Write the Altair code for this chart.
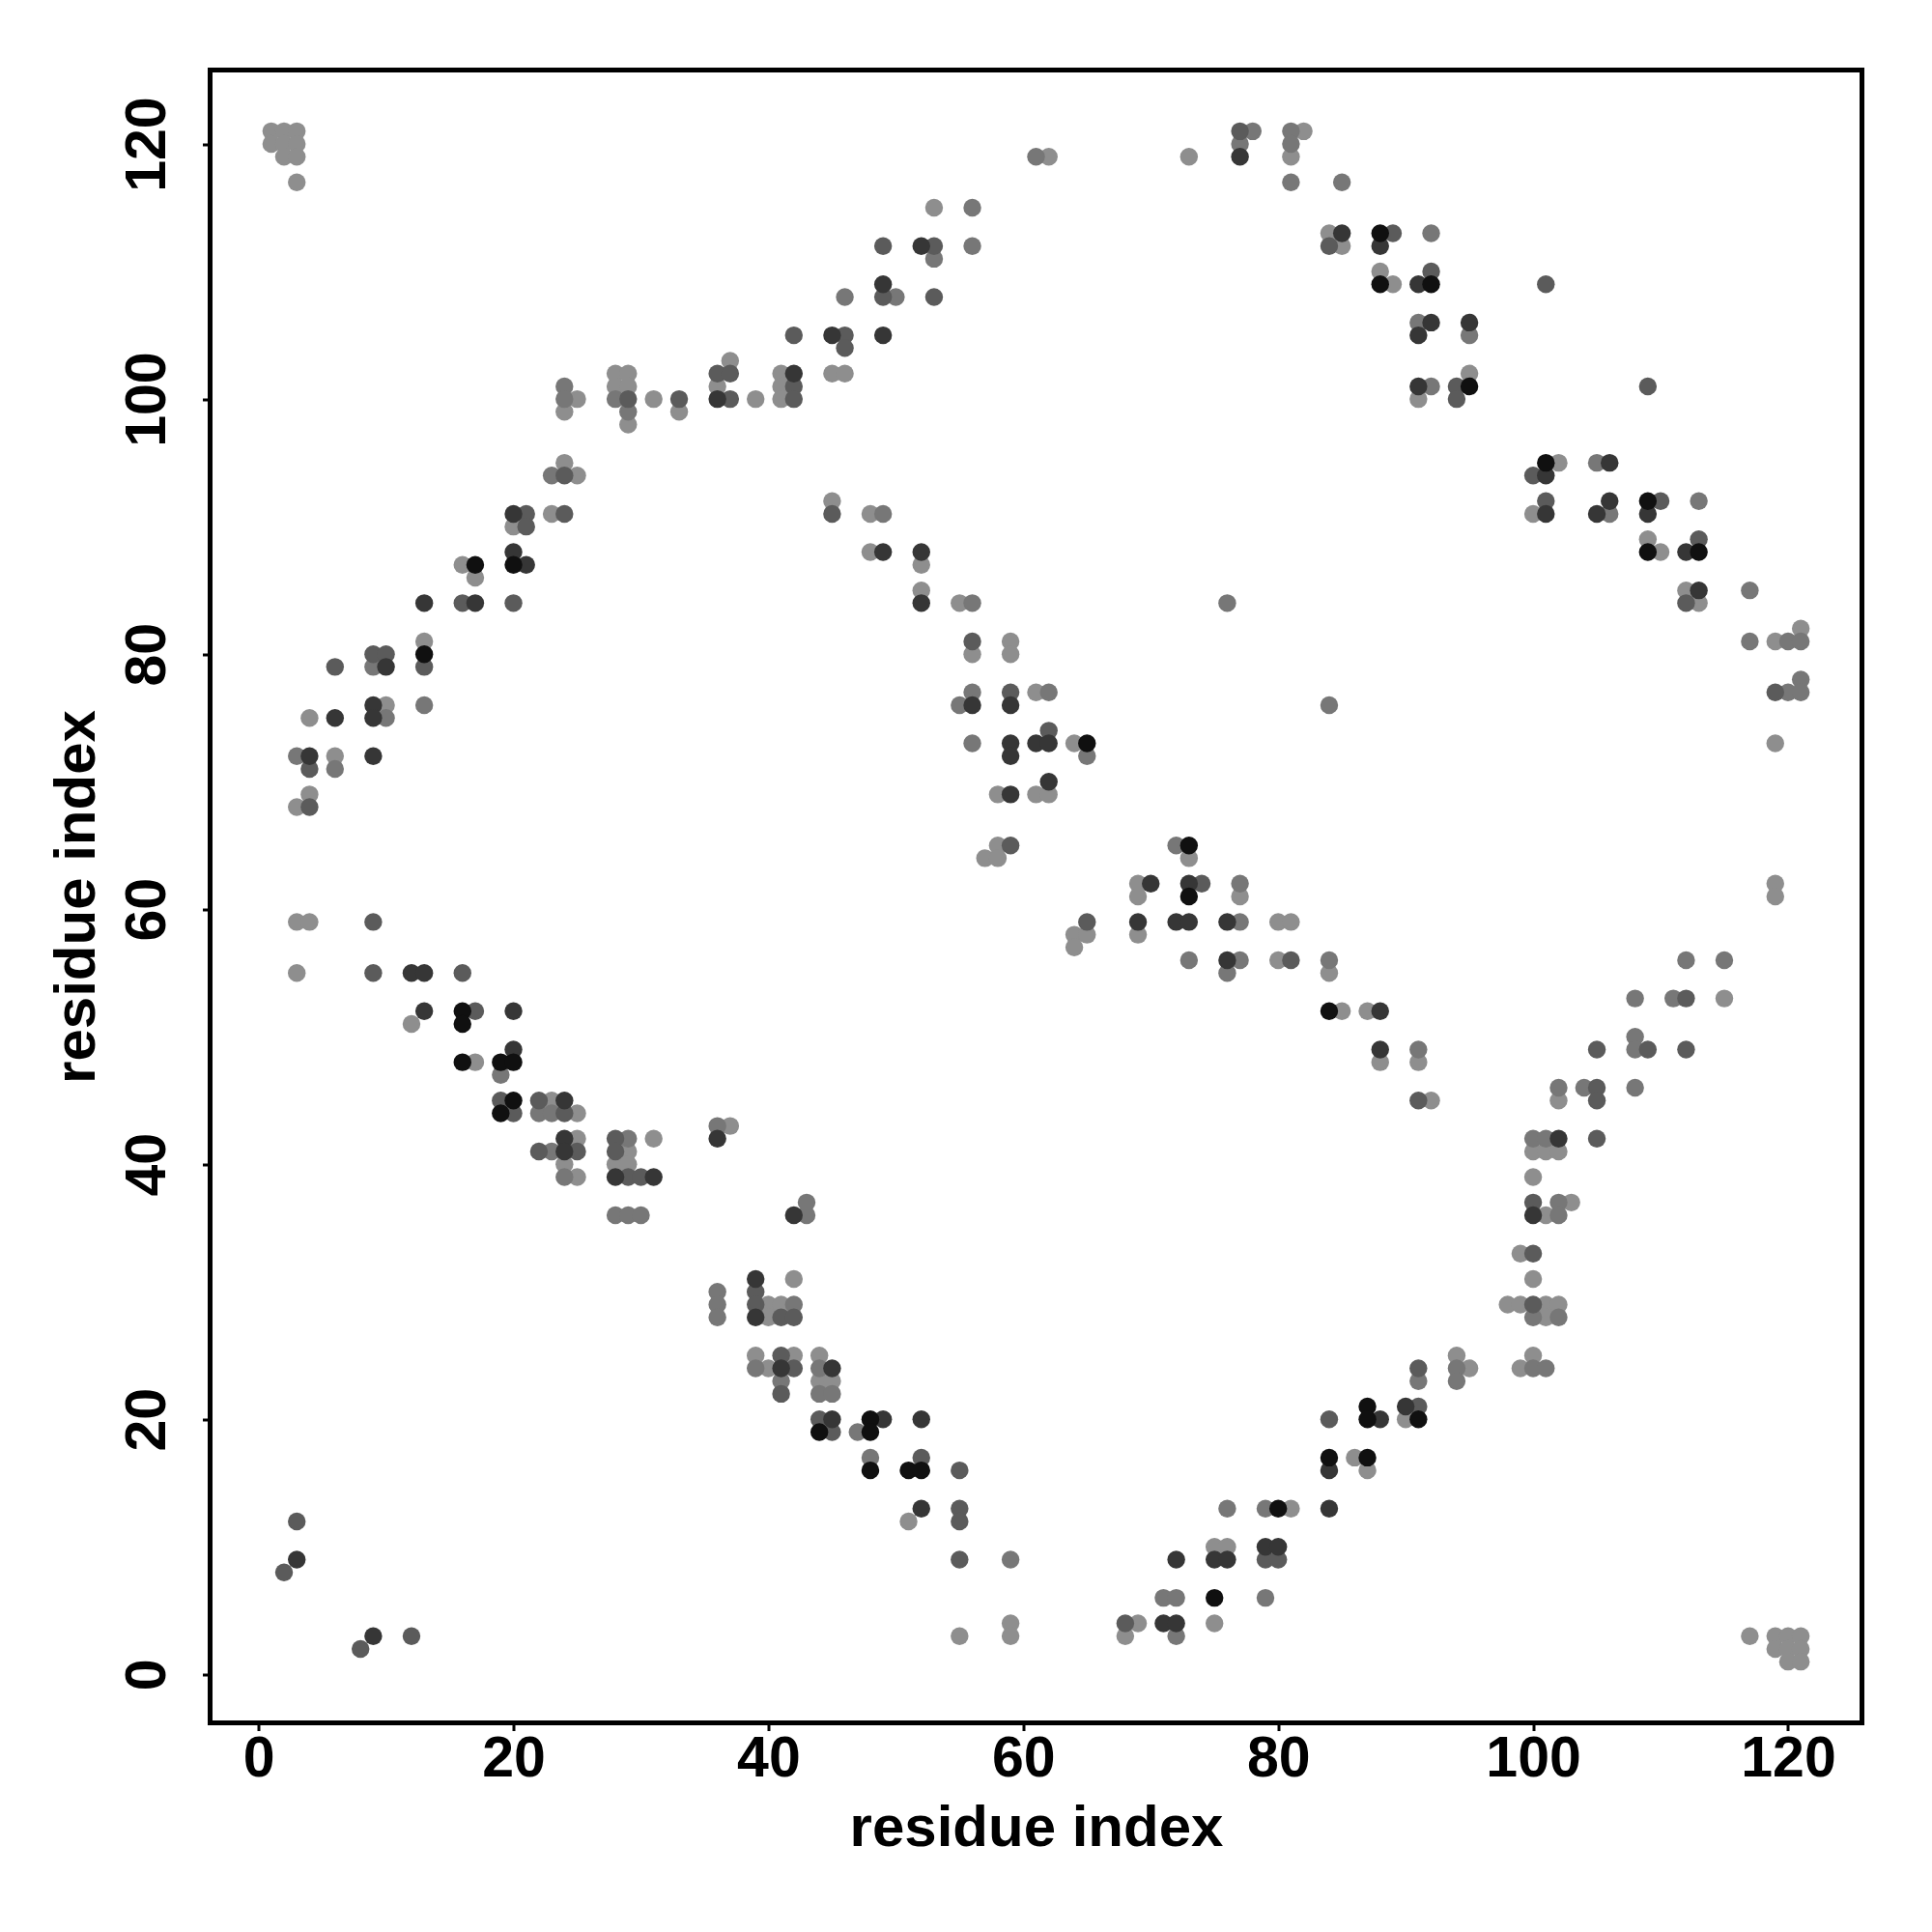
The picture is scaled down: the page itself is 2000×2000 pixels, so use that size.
import altair as alt
import pandas as pd

# contact pairs (residue i, residue j) grouped by shade
light_pts = [
    [1,121],[2,121],[3,121],[1,120],[2,120],[3,120],[2,119],[3,119],[3,117],
    [25,100],[24,99],[28,102],[28,101],[29,102],[29,101],[29,98],[31,100],[33,99],[36,101],[37,103],[39,100],[24,95],[25,94],
    [62,119],[73,119],[81,119],[82,121],[53,115],
    [41,102],[45,102],[46,102],[41,101],[41,100],
    [84,113],[85,112],[88,110],[89,109],[95,102],[91,100],[102,95],
    [23,91],[20,90],[16,87],[17,86],[13,81],[10,76],[4,75],[6,72],[4,69],[3,68],
    [45,92],[48,91],[48,88],[52,87],[52,85],[55,84],[56,80],[59,81],[59,80],[61,77],[64,73],[58,69],[61,69],[62,69],[58,65],[57,64],[58,64],[73,64],[69,62],
    [100,91],[109,89],[110,88],[112,85],[113,84],[121,82],[119,81],[119,73],[119,62],
    [3,59],[4,59],[3,55],[12,51],[17,48],[23,45],[25,44],[25,42],[31,42],[37,43],[29,41],[24,40],[28,40],[29,40],[25,39],[39,25],
    [69,61],[77,61],[80,59],[81,59],[64,58],[65,58],[69,58],[64,57],[80,56],[42,31],[40,29],[41,29],[40,28],[42,25],[44,25],[40,24],[44,23],[45,23],[51,12],[59,4],[55,3],[59,3],[81,13],[75,10],[76,10],[69,4],[75,4],[68,3],
    [119,61],[84,55],[115,53],[85,52],[87,52],[88,48],[91,48],[92,45],[102,45],[100,41],[101,41],[102,41],[100,39],[103,37],[101,36],[99,33],[100,31],[98,29],[99,29],[101,29],[102,29],[101,28],[100,25],[99,24],[94,25],[95,24],[90,20],[86,17],[87,16],
    [117,3],[119,3],[120,3],[121,3],[119,2],[120,2],[121,2],[120,1],[121,1],
]
gray_pts = [
    [24,101],[24,100],[28,100],[29,99],[23,94],
    [61,119],[77,120],[78,121],[81,121],[81,120],[81,117],[56,115],[56,112],[53,111],[46,108],[50,108],
    [85,117],[92,113],[91,106],[95,105],[92,101],[105,95],
    [9,79],[13,76],[10,75],[3,72],[6,71],
    [49,91],[56,84],[76,84],[56,77],[62,77],[55,76],[56,73],[65,72],[72,65],[77,62],
    [113,92],[106,91],[117,85],[117,81],[120,81],[121,81],[121,78],[120,77],[121,77],[84,76],
    [19,47],[22,44],[23,44],[29,42],[36,43],[23,41],[24,39],[28,36],[29,36],[30,36],[36,30],[36,29],[36,28],[39,24],
    [77,59],[73,56],[77,56],[76,55],[43,37],[43,36],[42,29],[44,24],[41,23],[44,22],[45,22],[47,19],[48,17],[59,9],[76,13],[79,13],[71,6],[72,6],[79,6],[72,3],
    [84,56],[112,56],[115,56],[108,53],[111,53],[108,50],[91,49],[108,49],[102,46],[104,46],[108,46],[100,42],[101,42],[102,37],[102,36],[100,28],[102,28],[100,24],[101,24],[94,24],[94,23],[91,23],
]
darkgray_pts = [
    [29,100],[33,100],[36,102],[37,102],[37,100],[24,94],
    [77,121],[49,112],[53,112],[49,108],[53,108],[42,105],[46,105],[46,104],[42,101],[42,100],
    [84,112],[89,113],[92,110],[101,109],[94,101],[94,100],[109,101],[100,94],
    [21,91],[24,91],[21,90],[16,84],[20,84],[13,79],[9,80],[10,80],[6,79],[4,71],[4,68],
    [45,91],[56,81],[59,77],[62,74],[59,65],[74,62],
    [101,92],[110,92],[113,89],[112,84],[119,77],
    [9,59],[9,55],[16,55],[17,52],[19,45],[22,45],[20,44],[24,44],[28,42],[22,41],[25,41],[28,41],[29,39],[30,39],[39,30],[39,29],[3,12],[2,8],[12,3],[8,2],
    [65,59],[81,56],[41,28],[42,28],[41,25],[42,24],[41,22],[44,20],[45,19],[52,17],[55,16],[55,13],[55,12],[55,9],[79,9],[80,9],[68,4],
    [112,53],[105,49],[109,49],[112,49],[105,46],[91,45],[105,45],[105,42],[100,37],[100,33],[100,29],[91,24],[91,21],[84,20],
]
dark_pts = [
    [36,100],[77,119],[52,112],[49,109],[45,105],[49,105],[42,102],
    [85,113],[88,112],[91,109],[92,106],[91,105],[95,106],[91,101],[101,94],[106,95],
    [20,91],[20,88],[21,87],[13,84],[17,84],[10,79],[9,76],[9,75],[6,75],[4,72],[9,72],
    [49,88],[52,88],[52,84],[56,76],[59,76],[59,73],[61,73],[62,73],[59,72],[62,70],[59,69],[70,62],[73,62],
    [106,92],[101,91],[105,91],[109,91],[112,88],[113,85],
    [12,55],[13,55],[13,52],[20,52],[20,49],[24,45],[24,42],[36,42],[24,41],[28,39],[31,39],[39,31],[39,28],[3,9],[9,3],
    [69,59],[72,59],[73,59],[76,59],[76,56],[42,36],[41,24],[45,24],[45,20],[49,20],[52,20],[52,13],[79,10],[80,10],[72,9],[75,9],[76,9],[71,4],[72,4],
    [88,52],[88,49],[102,42],[100,36],[90,21],[88,20],[84,16],[84,13],
]
black_pts = [
    [88,113],[88,109],[92,109],[95,101],[101,95],
    [20,87],[17,87],[13,80],
    [65,73],[73,65],
    [109,92],[109,88],[113,88],
    [16,52],[16,51],[16,48],[19,48],[20,48],[20,45],[19,44],
    [73,61],[48,20],[44,19],[48,19],[48,16],[51,16],[52,16],[80,13],[75,6],
    [84,52],[87,21],[87,20],[91,20],[84,17],[87,17],
]

shade_names = ["light", "gray", "darkgray", "dark", "black"]
shade_colors = ["#8e8e8e", "#777777", "#5b5b5b", "#363636", "#101010"]
tick_values = [0, 20, 40, 60, 80, 100, 120]

rows = []
for name, pts in zip(shade_names, [light_pts, gray_pts, darkgray_pts, dark_pts, black_pts]):
    for i, j in pts:
        rows.append({"i": i, "j": j, "shade": name})
df = pd.DataFrame(rows)
df["ord"] = range(len(df))

W, H = 1710, 1711
FONT = "Liberation Sans"

chart = alt.Chart(df).mark_circle(size=340, opacity=1).encode(
    x=alt.X("i:Q",
            scale=alt.Scale(domain=[-3.8, 125.8], nice=False, zero=False),
            axis=alt.Axis(values=tick_values, title="residue index", format="d",
                          labelBaseline="alphabetic", labelPadding=47, labelFlush=False,
                          titleBaseline="alphabetic", titleAlign="center",
                          titleX=W / 2, titleY=126.5)),
    y=alt.Y("j:Q",
            scale=alt.Scale(domain=[-3.8, 125.8], nice=False, zero=False),
            axis=alt.Axis(values=tick_values, title="residue index", format="d",
                          labelAngle=270, labelAlign="center", labelBaseline="alphabetic",
                          labelPadding=39.5, labelFlush=False,
                          titleAngle=270, titleBaseline="alphabetic", titleAlign="center",
                          titleX=-120, titleY=H / 2)),
    color=alt.Color("shade:N", scale=alt.Scale(domain=shade_names, range=shade_colors), legend=None),
    order=alt.Order("ord:Q"),
).properties(
    width=W, height=H,
    autosize=alt.AutoSizeParams(type="none"),
    padding={"left": 209.5, "top": 64.5, "right": 40, "bottom": 160},
).configure_view(
    stroke="black", strokeWidth=5, fill="white"
).configure_axis(
    domain=False, grid=False, ticks=True, tickColor="black", tickWidth=3, tickSize=8,
    labelFont=FONT, labelFontSize=59, labelFontWeight="bold", labelColor="black",
    titleFont=FONT, titleFontSize=60, titleFontWeight="bold", titleColor="black",
)

chart.save("out.html", embed_options={"renderer": "svg", "actions": False})
